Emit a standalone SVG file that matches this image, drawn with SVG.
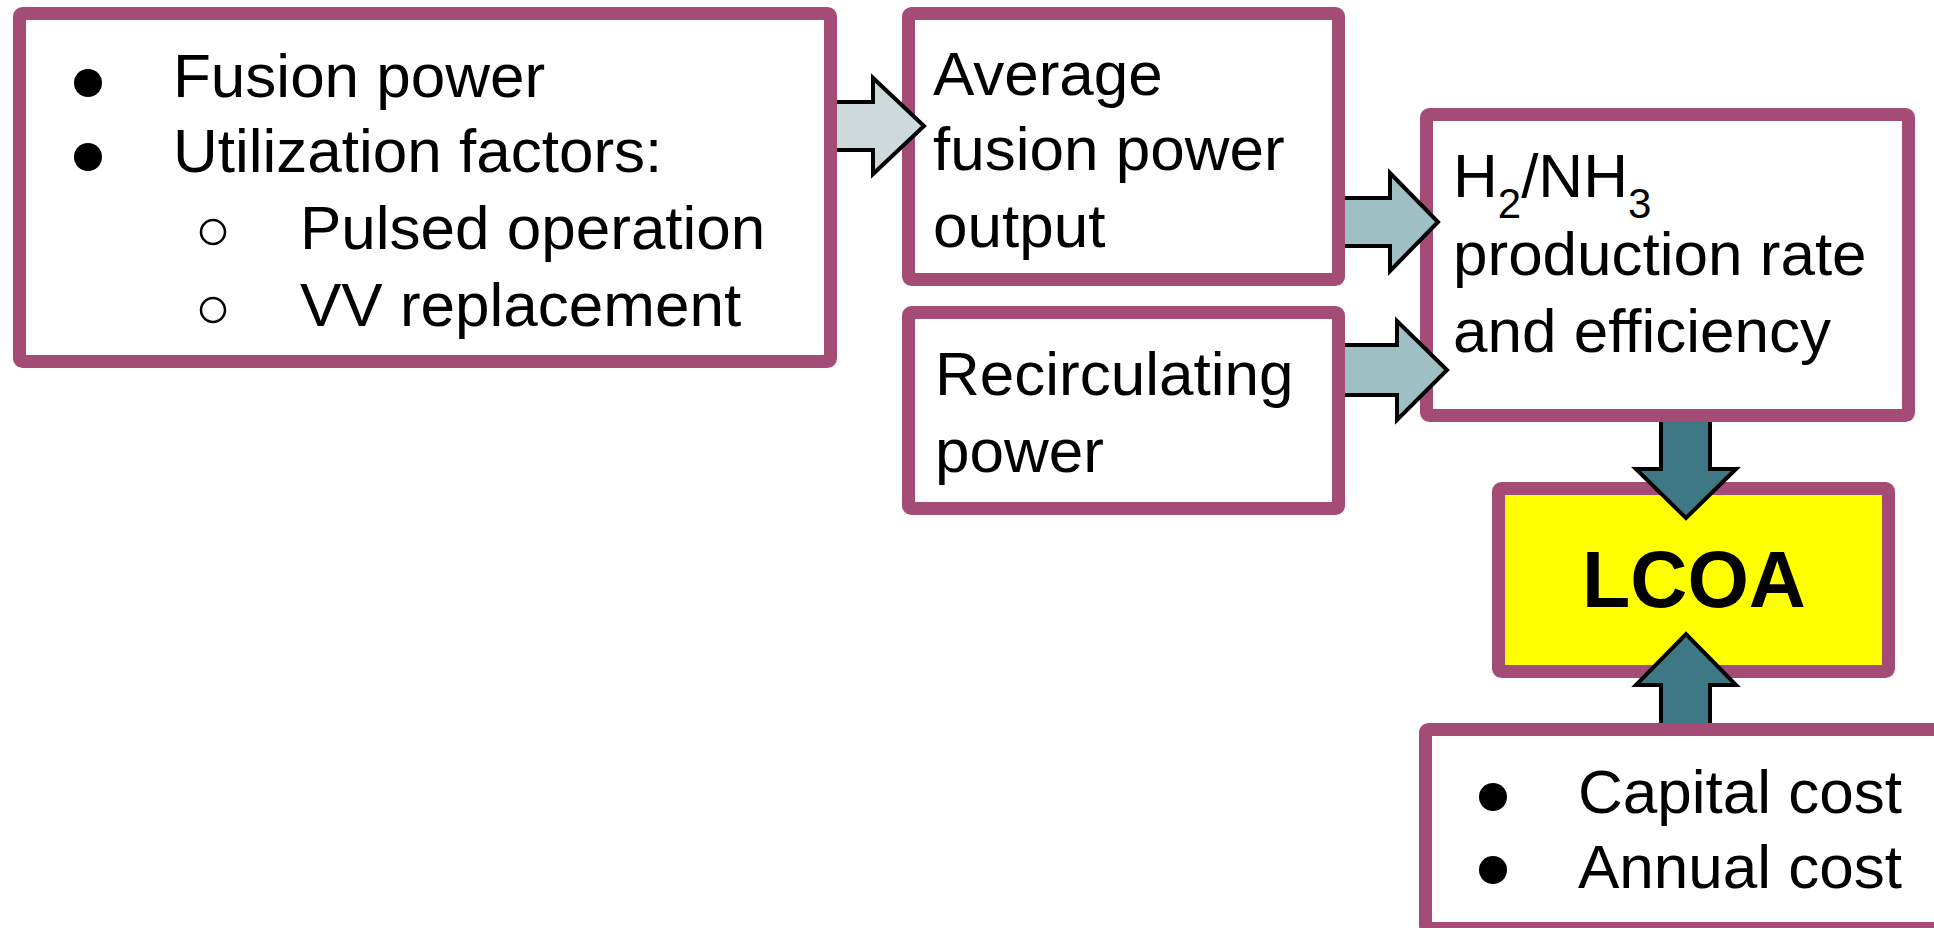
<svg xmlns="http://www.w3.org/2000/svg" width="1934" height="928" viewBox="0 0 1934 928">
<style>
.box{fill:#ffffff;stroke:#a44b76;stroke-width:13;}
.lcoa{fill:#ffff00;stroke:#a44b76;stroke-width:13;}
.t{font-family:"Liberation Sans",Arial,sans-serif;font-size:62px;fill:#000;}
.sub{font-size:42px;}
.b{font-family:"Liberation Sans",Arial,sans-serif;font-size:79px;font-weight:bold;fill:#000;}
.arrL{fill:#cdd9db;stroke:#000;stroke-width:4;stroke-linejoin:miter;}
.arrM{fill:#9ec0c5;stroke:#000;stroke-width:4;stroke-linejoin:miter;}
.arrD{fill:#3e7885;stroke:#000;stroke-width:4;stroke-linejoin:miter;}
.dot{fill:#000;}
.ring{fill:none;stroke:#000;stroke-width:2.5;}
</style>
<rect width="1934" height="928" fill="#ffffff"/>
<g id="inputs">
<rect class="box" x="19.5" y="13.5" width="811" height="348" rx="3"/>
<circle class="dot" cx="88" cy="83" r="14"/>
<circle class="dot" cx="88" cy="157" r="14"/>
<circle class="ring" cx="213" cy="232" r="12"/>
<circle class="ring" cx="213" cy="310" r="12"/>
<text class="t" x="173" y="97">Fusion power</text>
<text class="t" x="173" y="172">Utilization factors:</text>
<text class="t" x="300" y="249">Pulsed operation</text>
<text class="t" x="300" y="326">VV replacement</text>
</g>
<g id="avg-fusion">
<rect class="box" x="908.5" y="13.5" width="430" height="266" rx="3"/>
<text class="t" x="933" y="95">Average</text>
<text class="t" x="933" y="170">fusion power</text>
<text class="t" x="933" y="247">output</text>
</g>
<g id="recirc">
<rect class="box" x="908.5" y="312.5" width="430" height="196" rx="3"/>
<text class="t" x="935" y="395">Recirculating</text>
<text class="t" x="935" y="472">power</text>
</g>
<g id="production">
<rect class="box" x="1426.5" y="114.5" width="482" height="301" rx="3"/>
<text class="t" x="1453" y="197">H<tspan class="sub" dy="21">2</tspan><tspan dy="-21">/NH</tspan><tspan class="sub" dy="21">3</tspan></text>
<text class="t" x="1453" y="275">production rate</text>
<text class="t" x="1453" y="352">and efficiency</text>
</g>
<g id="lcoa">
<rect class="lcoa" x="1498.5" y="488.5" width="390" height="183" rx="3"/>
<text class="b" x="1694" y="607" text-anchor="middle">LCOA</text>
</g>
<g id="costs">
<rect class="box" x="1425.5" y="729.5" width="600" height="199" rx="3"/>
<circle class="dot" cx="1493" cy="797" r="14"/>
<circle class="dot" cx="1493" cy="870" r="14"/>
<text class="t" x="1578" y="813">Capital cost</text>
<text class="t" x="1578" y="888">Annual cost</text>
</g>
<g id="connectors">
<path class="arrL" d="M837,150 L873,150 L873,174 L924,126 L873,78 L873,102 L837,102"/>
<path class="arrM" d="M1345,246 L1390,246 L1390,271 L1438,222 L1390,173 L1390,198 L1345,198"/>
<path class="arrM" d="M1345,395 L1397,395 L1397,420 L1447,370 L1397,321 L1397,345 L1345,345"/>
<path class="arrD" d="M1661,422 L1661,469 L1636,469 L1686,518 L1736,469 L1710,469 L1710,422"/>
<path class="arrD" d="M1661,723 L1661,685 L1636,685 L1686,634 L1736,685 L1710,685 L1710,723"/>
</g>
</svg>
